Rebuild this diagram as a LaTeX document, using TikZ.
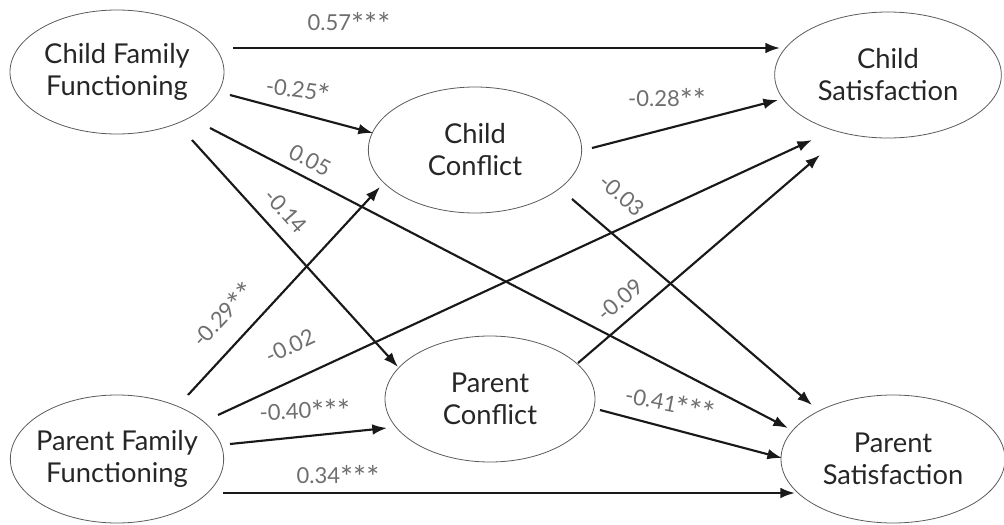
\documentclass[tikz,border=0pt]{standalone}
\usepackage{fontspec}
\setmainfont{Lato}
\usetikzlibrary{shapes.geometric,arrows.meta,calc}
\definecolor{labgray}{HTML}{6E6E6E}
\definecolor{edgegray}{HTML}{5A5A5A}
\newcommand\sigstar{\raisebox{-0.22em}{\fontsize{23}{23}\selectfont *}}
\begin{document}
\begin{tikzpicture}[x=0.75pt,y=-0.75pt,
  var/.style={ellipse, draw=edgegray, line width=0.6pt, inner xsep=-12pt, inner ysep=0pt,
    align=center, font=\fontsize{20.5}{24}\selectfont, text=black!85},
  arr/.style={line width=1.6pt, draw=black!90, -{Latex[length=11pt,width=8pt]}},
  lab/.style={font=\fontsize{16.5}{18}\selectfont, text=labgray, inner sep=0pt}]
\useasboundingbox (0,0) rectangle (1004,525);

% variables
\node[var, minimum width=160.5pt, minimum height=93pt]   (cff) at (117,72)  {Child Family\\Functioning};
\node[var, minimum width=160pt,   minimum height=94.5pt] (cc)  at (475,150) {Child\\Conflict};
\node[var, minimum width=170pt,   minimum height=94.5pt] (cs)  at (888,75)  {Child\\Satisfaction};
\node[var, minimum width=160pt,   minimum height=96pt]   (pff) at (117,459) {Parent Family\\Functioning};
\node[var, minimum width=157.5pt, minimum height=94.5pt] (pc)  at (490,399) {Parent\\Conflict};
\node[var, minimum width=168pt,   minimum height=96pt]   (ps)  at (893,459) {Parent\\Satisfaction};

% paths
\draw[arr] ($(cff)+(116,-24)$) -- ($(cs)+(-108,-27)$);
\draw[arr] ($(cff)+(113,23)$)  -- ($(cc)+(-102,-17)$);
\draw[arr] ($(cff)+(93,56)$)   -- ($(ps)+(-105,-31)$);
\draw[arr] ($(cff)+(75,68)$)   -- ($(pc)+(-92,-32)$);
\draw[arr] ($(pff)+(71,-64)$)  -- ($(cc)+(-95,37)$);
\draw[arr] ($(pff)+(101,-44)$) -- ($(cs)+(-76,65)$);
\draw[arr] ($(pff)+(113,-15)$) -- ($(pc)+(-103,29)$);
\draw[arr] ($(pff)+(106,34)$)  -- ($(ps)+(-98,34)$);
\draw[arr] ($(cc)+(117,-2)$)   -- ($(cs)+(-110,25)$);
\draw[arr] ($(cc)+(97,49)$)    -- ($(ps)+(-81,-54)$);
\draw[arr] ($(pc)+(88,-36)$)   -- ($(cs)+(-68,80)$);
\draw[arr] ($(pc)+(110,11)$)   -- ($(ps)+(-111,-1)$);

% coefficients
\node[lab]              (l1)  at (349,24)  {0.57\sigstar\sigstar\sigstar};
\node[lab, rotate=-8]   (l2)  at (298,91)  {-0.25\sigstar};
\node[lab, rotate=-27]  (l3)  at (310,160) {0.05};
\node[lab, rotate=-48]  (l4)  at (286,211) {-0.14};
\node[lab, rotate=47]   (l5)  at (224,316) {-0.29\sigstar\sigstar};
\node[lab, rotate=25]   (l6)  at (290,346) {-0.02};
\node[lab, rotate=2]    (l7)  at (305,412) {-0.40\sigstar\sigstar\sigstar};
\node[lab]              (l8)  at (338,477) {0.34\sigstar\sigstar\sigstar};
\node[lab]              (l9)  at (667,100) {-0.28\sigstar\sigstar};
\node[lab, rotate=-41]  (l10) at (622,195) {-0.03};
\node[lab, rotate=41]   (l11) at (620,300) {-0.09};
\node[lab, rotate=-11]  (l12) at (670,405) {-0.41\sigstar\sigstar\sigstar};
\end{tikzpicture}
\end{document}
